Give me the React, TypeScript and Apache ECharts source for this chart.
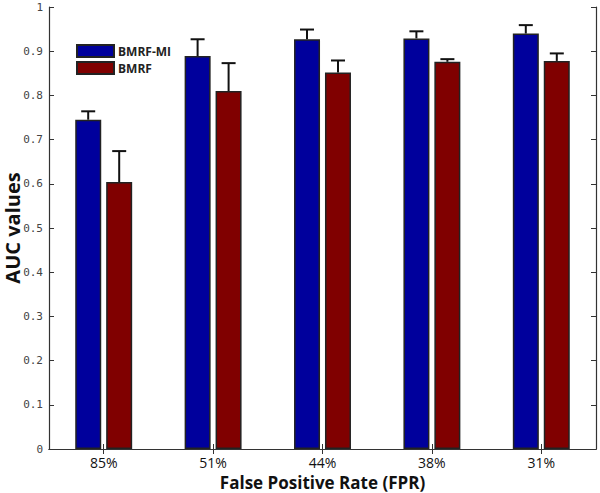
import React, { useEffect, useRef } from "react";
import * as echarts from "echarts";

const categories = ["85%", "51%", "44%", "38%", "31%"];
const bmrfMi = [0.745, 0.889, 0.927, 0.929, 0.940];
const bmrfMiErr = [0.019, 0.038, 0.022, 0.016, 0.019];
const bmrf = [0.604, 0.810, 0.852, 0.876, 0.878];
const bmrfErr = [0.07, 0.063, 0.027, 0.006, 0.017];
const yTicks = [0, 0.1, 0.2, 0.3, 0.4, 0.5, 0.6, 0.7, 0.8, 0.9, 1];

const BLUE = "#00009C";
const RED = "#800000";

function errorSeries(name: string, values: number[], errs: number[], offset: number) {
  return {
    type: "custom",
    name: name + "-err",
    z: 5,
    silent: true,
    data: values.map((v, i) => [i, v, v + errs[i]]),
    renderItem: (params: any, api: any) => {
      const i = api.value(0);
      const lo = api.coord([i, api.value(1)]);
      const hi = api.coord([i, api.value(2)]);
      const x = lo[0] + offset;
      const half = 7;
      const style = { stroke: "#111", lineWidth: 2 };
      return {
        type: "group",
        children: [
          { type: "line", shape: { x1: x, y1: lo[1], x2: x, y2: hi[1] }, style },
          { type: "line", shape: { x1: x - half, y1: hi[1], x2: x + half, y2: hi[1] }, style },
        ],
      };
    },
  };
}

export default function App() {
  const ref = useRef<HTMLDivElement>(null);
  useEffect(() => {
    if (!ref.current) return;
    const chart = echarts.init(ref.current, undefined, { renderer: "svg" });
    const axisLine = { show: true, lineStyle: { color: "#333", width: 1.2 } };
    chart.setOption({
      animation: false,
      backgroundColor: "#fff",
      grid: { left: 49, right: 4, top: 7, bottom: 44, containLabel: false, outerBoundsMode: "none" },
      legend: {
        show: true,
        left: 71,
        top: 39,
        orient: "vertical",
        itemWidth: 37,
        itemHeight: 12,
        itemGap: 3,
        icon: "rect",
        data: ["BMRF-MI", "BMRF"],
        textStyle: { fontFamily: "Open Sans", fontWeight: "bold", fontSize: 12, color: "#222", padding: [0, 0, 0, -1] },
      },
      xAxis: [
        {
          type: "category",
          data: categories,
          position: "bottom",
          axisLine,
          axisTick: { show: true, inside: true, alignWithLabel: true, length: 5, lineStyle: { color: "#333" } },
          axisLabel: { fontFamily: "Open Sans", fontSize: 14, color: "#111", margin: 6 },
          name: "False Positive Rate (FPR)",
          nameLocation: "middle",
          nameGap: 25,
          nameMoveOverlap: false,
          nameTextStyle: { fontFamily: "Open Sans", fontWeight: "bold", fontSize: 17, color: "#111" },
        },
        {
          type: "category",
          data: categories,
          position: "top",
          axisLine,
          axisTick: { show: true, inside: true, alignWithLabel: true, length: 5, lineStyle: { color: "#333" } },
          axisLabel: { show: false },
        },
      ],
      yAxis: [
        {
          type: "value",
          min: 0,
          max: 1,
          interval: 0.1,
          position: "left",
          axisLine,
          splitLine: { show: false },
          axisTick: { show: true, inside: true, length: 5, lineStyle: { color: "#333" } },
          axisLabel: {
            fontFamily: "DejaVu Sans Mono",
            fontSize: 11,
            color: "#444",
            margin: 6,
            formatter: (v: number) => {
              const t = yTicks.find((y) => Math.abs(y - v) < 1e-6);
              return t === undefined ? "" : String(Number(t.toFixed(1)));
            },
          },
          name: "AUC values",
          nameLocation: "middle",
          nameGap: 27,
          nameMoveOverlap: false,
          nameTextStyle: { fontFamily: "Open Sans", fontWeight: "bold", fontSize: 20, color: "#111" },
        },
        {
          type: "value",
          min: 0,
          max: 1,
          interval: 0.1,
          position: "right",
          axisLine,
          splitLine: { show: false },
          axisTick: { show: true, inside: true, length: 5, lineStyle: { color: "#333" } },
          axisLabel: { show: false },
        },
      ],
      series: [
        {
          name: "BMRF-MI",
          type: "bar",
          data: bmrfMi,
          barWidth: 26,
          barGap: "19%",
          itemStyle: { color: BLUE, borderColor: "#222", borderWidth: 1.5 },
        },
        {
          name: "BMRF",
          type: "bar",
          data: bmrf,
          barWidth: 26,
          barGap: "19%",
          itemStyle: { color: RED, borderColor: "#222", borderWidth: 1.5 },
        },
        errorSeries("BMRF-MI", bmrfMi, bmrfMiErr, -15.5),
        errorSeries("BMRF", bmrf, bmrfErr, 15.5),
      ],
    });
    return () => chart.dispose();
  }, []);
  return <div ref={ref} style={{ width: 600, height: 493, position: "fixed", left: 0, top: 0 }} />;
}
